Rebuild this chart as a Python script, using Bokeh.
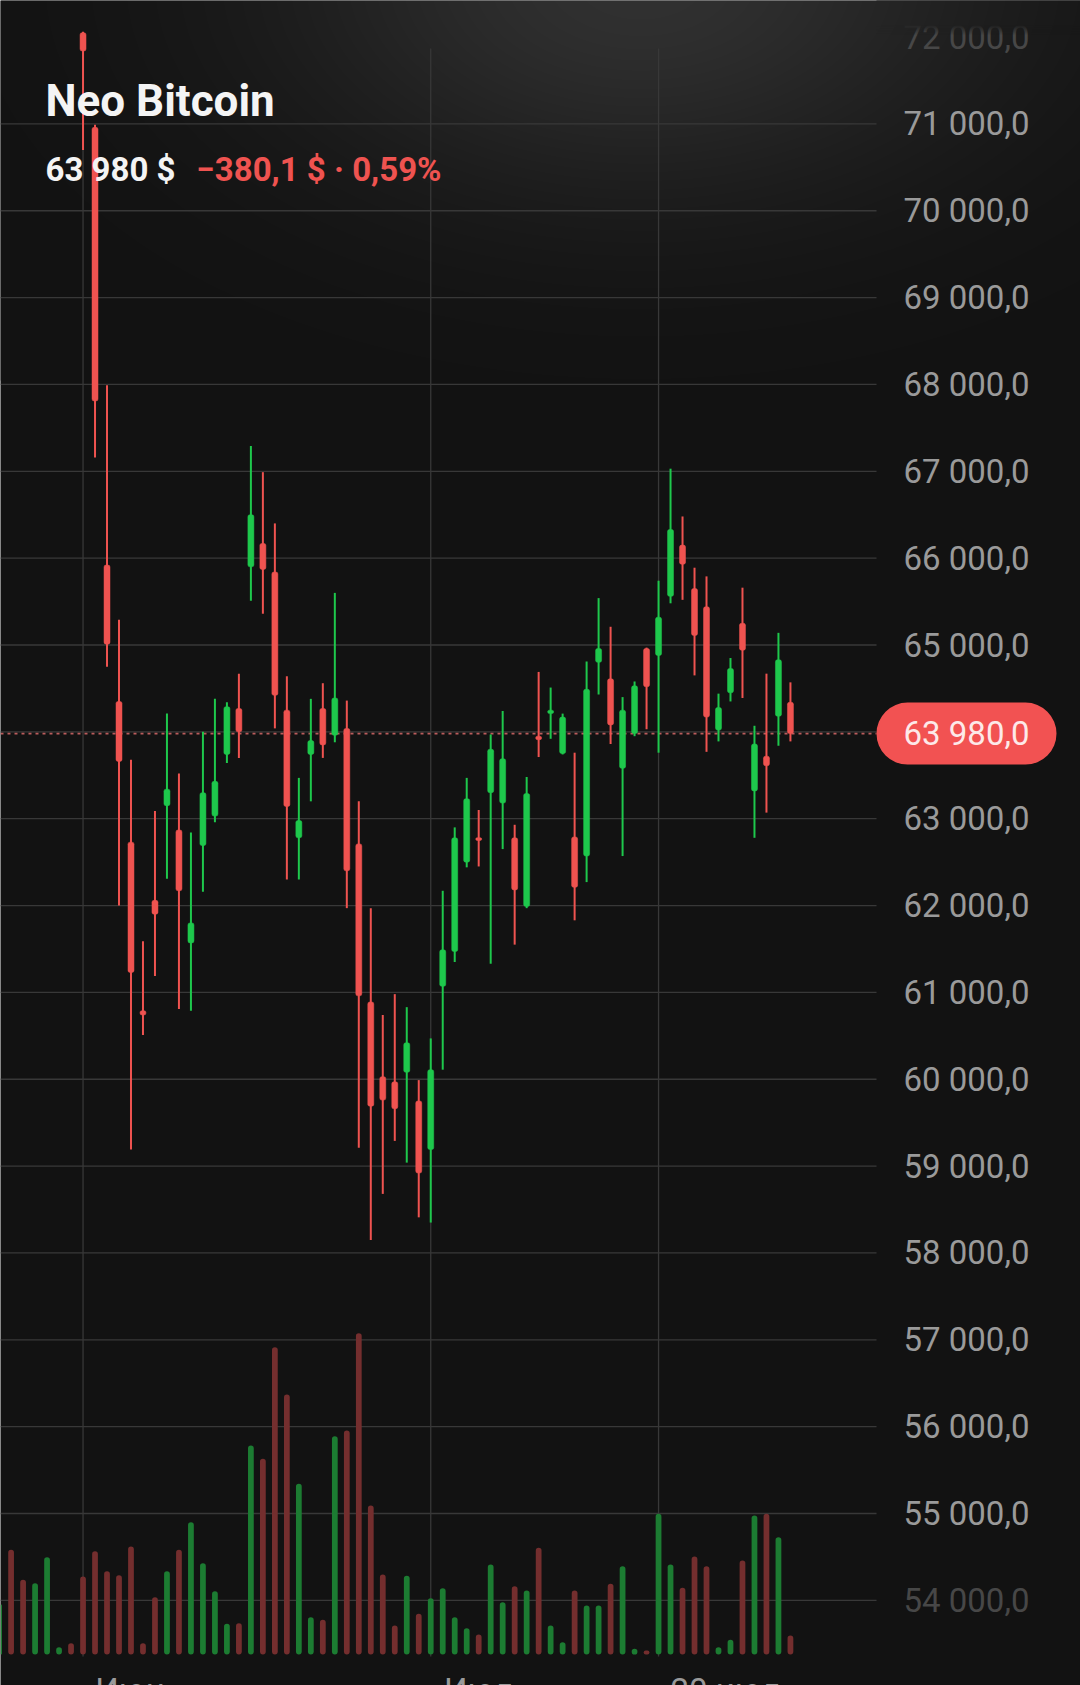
import math
import numpy as np
from bokeh.plotting import figure
from bokeh.models import Range1d, LinearAxis, FixedTicker, Label
from bokeh.models import ColumnDataSource
from bokeh.embed import file_html
from bokeh.resources import INLINE

nan = float("nan")

# ---------------- data (daily candles, index 0 .. 66) ----------------
day_index = list(range(67))
opens = [nan] * 7 + [
    72050, 70960, 65920, 64350, 62730, 60790, 62060, 63150, 62870, 61570,
    62690, 63030, 63740, 64270, 65900, 66170, 65840, 64250, 62780, 63740,
    64270, 63960, 64040, 62710, 60890, 60030, 59970, 60080, 59750, 59190,
    61070, 61470, 62500, 62780, 63300, 63180, 62780, 61990, 63950, 64210,
    63750, 62790, 62570, 64800, 64610, 63580, 63980, 64960, 64880, 65560,
    66150, 65650, 65440, 64020, 64450, 65250, 63320, 63720, 64180, 64340]
highs = [nan] * 7 + [
    72060, 70990, 67990, 65290, 63680, 61590, 63090, 64210, 63520, 62840,
    64000, 64380, 64340, 64670, 67290, 66990, 66400, 64640, 63470, 64380,
    64560, 65600, 64360, 63200, 61970, 60740, 60980, 60830, 59990, 60470,
    62170, 62900, 63470, 63100, 63970, 64240, 62930, 63480, 64690, 64510,
    64210, 63760, 64810, 65540, 65210, 64400, 64580, 64970, 65740, 67030,
    66480, 65890, 65790, 64440, 64850, 65660, 64070, 64670, 65140, 64570]
lows = [nan] * 7 + [
    70700, 67160, 64750, 62000, 59190, 60510, 61190, 62310, 60810, 60790,
    62160, 62960, 63640, 63700, 65510, 65360, 64040, 62300, 62300, 63200,
    63700, 63880, 61970, 59210, 58150, 58680, 59290, 59040, 58410, 58350,
    60110, 61350, 62440, 62450, 61330, 62650, 61550, 61970, 63710, 63920,
    63740, 61830, 62270, 64430, 63860, 62570, 63950, 64030, 63760, 65480,
    65520, 64650, 63770, 63890, 64350, 64390, 62780, 63070, 63840, 63890]
closes = [nan] * 7 + [
    71840, 67810, 65010, 63660, 61230, 60740, 61900, 63340, 62170, 61800,
    63300, 63430, 64290, 64000, 66500, 65870, 64420, 63140, 62980, 63900,
    63850, 64390, 62400, 60960, 59690, 59760, 59660, 60420, 58920, 60110,
    61490, 62780, 63230, 62750, 63800, 63690, 62180, 63290, 63910, 64250,
    64170, 62210, 64490, 64960, 64080, 64250, 64530, 64520, 65320, 66330,
    65930, 65110, 64170, 64280, 64730, 64940, 63860, 63610, 64830, 63980]
# direction of the first 7 days (their prices lie above the visible range)
early_up = [True, False, False, True, True, True, False]
volume = [
    500, 1047, 747, 713, 973, 73, 113, 780, 1033, 833,
    793, 1080, 113, 573, 833, 1047, 1323, 913, 633, 307,
    313, 2090, 1957, 3073, 2600, 1707, 373, 347, 2183, 2240,
    3213, 1490, 800, 290, 787, 407, 563, 663, 373, 263,
    200, 900, 523, 683, 640, 1067, 290, 123, 640, 490,
    490, 707, 883, 57, 40, 1407, 900, 667, 980, 883,
    73, 147, 940, 1390, 1407, 1173, 190]

month_ticks = [7, 36, 55]
month_labels = ["Июн", "Июл", "20 июл"]
price_ticks = list(range(54000, 72001, 1000))
price_tick_labels = ["54 000,0", "55 000,0", "56 000,0", "57 000,0", "58 000,0",
                     "59 000,0", "60 000,0", "61 000,0", "62 000,0", "63 000,0",
                     "64 000,0", "65 000,0", "66 000,0", "67 000,0", "68 000,0",
                     "69 000,0", "70 000,0", "71 000,0", "72 000,0"]
faded_ticks = [54000, 72000]
grid_ticks = list(range(54000, 71001, 1000))

title_text = "Neo Bitcoin"
price_text = "63 980 $"
change_text = "\u2212380,1 $ \u00b7 0,59%"
last_price_text = "63 980,0"

# ---------------- styling / layout ----------------
BG = "#121212"
GRID = "#383838"
UP = "#1ec84c"
DOWN = "#ef5350"
VOL_UP = "#1c7c32"
VOL_DOWN = "#742e2e"
LABEL = "#9a9a9a"
FONT = "Roboto"

W, H = 1080, 1685
PX_DAY = 11.99
X0_PAGE = -1.4
def x_at(px):
    return (px - X0_PAGE) / PX_DAY
PX_K = 86.85
Y71_PAGE = 123.4
def price_at(py):
    return 71000 - (py - Y71_PAGE) / PX_K * 1000.0
x_start, x_end = x_at(0), x_at(W)
y_start, y_end = price_at(H), price_at(0)
PLOT_RIGHT = 876
VOL_BASE = 1654
vol_start = -(H - VOL_BASE) * 10
vol_end = VOL_BASE * 10
# month labels start a little right of their grid line: centre offsets in px
month_label_dx = [47, 48, 67]

p = figure(width=W, height=H, output_backend="svg", toolbar_location=None,
           x_range=Range1d(x_start, x_end), y_range=Range1d(y_start, y_end),
           y_axis_location="right", min_border=0,
           background_fill_color=BG, border_fill_color=BG, outline_line_color=None)
p.extra_y_ranges = {"vol": Range1d(vol_start, vol_end)}
p.xgrid.visible = False
p.ygrid.visible = False

# soft light header gradient
gh = 380
yy = gh - 1 - np.arange(gh)[:, None]
xx = np.arange(W)[None, :]
g = 18 + 31 * np.exp(-((xx - 640) / 360.0) ** 2 - ((yy + 20) / 215.0) ** 2)
g = np.clip(g, 0, 255).astype(np.uint32)
img = ((255 << 24) | (g << 16) | (g << 8) | g).astype(np.uint32)
gr = p.image_rgba(image=[img], x=x_start, y=price_at(gh), dw=x_end - x_start,
                  dh=y_end - price_at(gh))
gr.level = "image"

# header strip that hides the very top of the price scale
hh = 36
top_rows = img[gh - hh:, PLOT_RIGHT:].copy()
ya_px = hh - 1 - np.arange(hh)[:, None]
alpha = np.clip((34 - ya_px) / 10.0, 0, 1) * 255
alpha = np.broadcast_to(alpha, top_rows.shape).astype(np.uint32)
strip = ((alpha << 24) | (top_rows & 0x00FFFFFF)).astype(np.uint32)
sr = p.image_rgba(image=[strip], x=x_at(PLOT_RIGHT), y=price_at(hh), dw=x_end - x_at(PLOT_RIGHT),
                  dh=y_end - price_at(hh))
sr.level = "annotation"

# grid lines (stop at the price-scale column)
hg = p.segment(x0=[x_start] * len(grid_ticks), x1=[x_at(PLOT_RIGHT)] * len(grid_ticks),
               y0=grid_ticks, y1=grid_ticks, line_color=GRID, line_width=1.3)
hg.level = "underlay"
vg = p.segment(x0=month_ticks, x1=month_ticks,
               y0=[price_at(VOL_BASE + 2)] * len(month_ticks),
               y1=[price_at(48)] * len(month_ticks), line_color=GRID, line_width=1.3)
vg.level = "underlay"

# y axis (price scale)
ya = p.yaxis[0]
main_ticks = [t for t in price_ticks if t not in faded_ticks]
ya.ticker = FixedTicker(ticks=main_ticks)
ya.major_label_overrides = {t: l for t, l in zip(price_ticks, price_tick_labels) if t in main_ticks}
ya.fixed_location = x_at(PLOT_RIGHT)
ya2 = LinearAxis(ticker=FixedTicker(ticks=faded_ticks), fixed_location=x_at(PLOT_RIGHT),
                 major_label_overrides={t: l for t, l in zip(price_ticks, price_tick_labels) if t in faded_ticks})
p.add_layout(ya2, "right")
for ax, col in ((ya, LABEL), (ya2, "#474747")):
    ax.axis_line_color = None
    ax.major_tick_line_color = None
    ax.minor_tick_line_color = None
    ax.major_tick_out = 0
    ax.major_tick_in = 0
    ax.minor_tick_out = 0
    ax.major_label_standoff = 27
    ax.major_label_text_font = FONT
    ax.major_label_text_font_size = "33px"
    ax.major_label_text_color = col

# x axis: month labels just under the volume bars
xa = p.xaxis[0]
label_pos = [t + dx / PX_DAY for t, dx in zip(month_ticks, month_label_dx)]
xa.fixed_location = price_at(VOL_BASE)
xa.ticker = FixedTicker(ticks=label_pos)
xa.major_label_overrides = {pos: l for pos, l in zip(label_pos, month_labels)}
xa.axis_line_color = None
xa.major_tick_line_color = None
xa.minor_tick_line_color = None
xa.major_tick_out = 0
xa.major_tick_in = 0
xa.minor_tick_out = 0
xa.major_label_standoff = 16
xa.major_label_text_font = FONT
xa.major_label_text_font_size = "33px"
xa.major_label_text_color = LABEL

# sources
up = []
for i in day_index:
    if math.isnan(opens[i]):
        up.append(early_up[i])
    else:
        up.append(closes[i] >= opens[i])
src = ColumnDataSource(dict(
    x=day_index, open=opens, high=highs, low=lows, close=closes, vol=volume,
    top=[max(o, c) if not math.isnan(o) else nan for o, c in zip(opens, closes)],
    bottom=[min(o, c) if not math.isnan(o) else nan for o, c in zip(opens, closes)],
    color=[UP if u else DOWN for u in up],
    vcolor=[VOL_UP if u else VOL_DOWN for u in up],
))

# volume
p.vbar(x="x", width=0.48, top="vol", bottom=0, source=src, y_range_name="vol",
       fill_color="vcolor", line_color=None, border_radius=3)

# last price dotted line
last = closes[-1]
pl = p.segment(x0=[x_start], x1=[x_at(PLOT_RIGHT)], y0=[last], y1=[last],
               line_color="#d96a6a", line_dash="3 4", line_width=1.6, line_alpha=0.85)
pl.level = "underlay"

# candles
p.segment(x0="x", y0="low", x1="x", y1="high", source=src, line_color="color", line_width=2)
p.vbar(x="x", width=0.5, top="top", bottom="bottom", source=src,
       fill_color="color", line_color="color", line_width=0.5, border_radius=2)

# header texts
p.add_layout(Label(x=45, y=H - 100, x_units="screen", y_units="screen",
                   text=title_text, text_font=FONT, text_font_style="bold",
                   text_font_size="44px", text_color="#f4f4f4", text_baseline="alphabetic"))
p.add_layout(Label(x=45, y=H - 168.5, x_units="screen", y_units="screen",
                   text=price_text, text_font=FONT, text_font_style="bold",
                   text_font_size="33px", text_color="#f4f4f4", text_baseline="alphabetic"))
p.add_layout(Label(x=196, y=H - 168.5, x_units="screen", y_units="screen",
                   text=change_text, text_font=FONT, text_font_style="bold",
                   text_font_size="33px", text_color="#ef5350", text_baseline="alphabetic"))

# last price badge (pill) on the price scale
half = 31 / PX_K * 1000
badge = p.quad(left=[x_at(PLOT_RIGHT)], right=[x_at(1056)], bottom=[last - half], top=[last + half],
               fill_color="#f25252", line_color=None, border_radius=31)
badge.level = "annotation"
p.add_layout(Label(x=x_at(966), y=last, text=last_price_text, text_font=FONT,
                   text_font_size="33px", text_color="#fde9e9", text_align="center",
                   text_baseline="middle"))

open("out.html", "w").write(file_html(p, INLINE))
